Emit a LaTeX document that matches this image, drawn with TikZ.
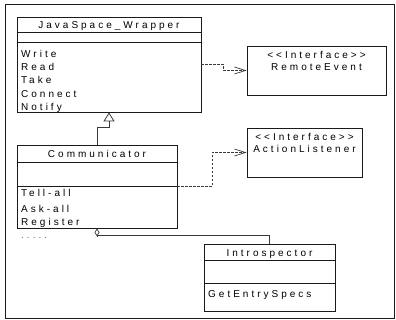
\documentclass[tikz,border=0pt]{standalone}
\usepackage{fontspec}
\newfontfamily\umlfont{Liberation Sans}[LetterSpace=30]
\usetikzlibrary{arrows.meta}
\definecolor{ln}{HTML}{1A1A1A}
\definecolor{cn}{HTML}{3A3A3A}
\definecolor{txt}{HTML}{000000}
\begin{document}
\begin{tikzpicture}[x=1pt,y=-1pt,
  every node/.style={font=\umlfont\fontsize{10}{12}\selectfont, text=txt},
  classbox/.style={draw=ln, line width=0.8pt, inner sep=0pt},
  sep/.style={draw=ln, line width=0.8pt},
  lbl/.style={inner sep=0pt, anchor=base west},
  ttl/.style={inner sep=0pt, anchor=base},
  dep/.style={draw=cn, line width=0.7pt, dash pattern=on 2.5pt off 1.5pt,
    -{Straight Barb[length=11pt,width=7pt,line width=0.7pt]}},
  inh/.style={draw=cn, line width=0.8pt, -{Triangle[open,length=9pt,width=11pt,line width=0.8pt]}},
  agg/.style={draw=cn, line width=0.8pt, -{Diamond[open,length=8pt,width=5pt,line width=0.7pt]}},
  frame/.style={draw=ln, line width=0.8pt}
]
\useasboundingbox (0,0) rectangle (396,320);
\draw[frame] (5,4) rectangle (394,318);
\draw[draw=ln, line width=1.6pt] (394.4,4) -- (394.4,318.4) -- (5,318.4);

% JavaSpace_Wrapper
\node[classbox, minimum width=184pt, minimum height=95pt] (jsw) at (109,64.5) {};
\draw[sep] (jsw.north west) ++(0,16) -- ++(184,0);
\draw[sep] (jsw.north west) ++(0,26) -- ++(184,0);
\node[ttl] (jswt) at (109,28.5) {JavaSpace\_Wrapper};
\node[lbl] (jm1) at (21,57.5) {Write};
\node[lbl] (jm2) at (21,71) {Read};
\node[lbl] (jm3) at (21,84) {Take};
\node[lbl] (jm4) at (21,97.5) {Connect};
\node[lbl] (jm5) at (21,111) {Notify};

% Communicator
\node[classbox, minimum width=160pt, minimum height=83pt] (com) at (97,186.5) {};
\draw[sep] (com.north west) ++(0,18) -- ++(160,0);
\draw[sep] (com.north west) ++(0,42) -- ++(160,0);
\node[ttl] (comt) at (97,157.5) {Communicator};
\node[lbl] (cm1) at (21,197) {Tell-all};
\node[lbl] (cm2) at (21,213) {Ask-all};
\node[lbl] (cm3) at (21,226) {Register};
\node[lbl, text=black!60] (dots) at (21,239) {.....};

% Introspector
\node[classbox, minimum width=131pt, minimum height=67pt] (int) at (269.5,277.5) {};
\draw[sep] (int.north west) ++(0,17) -- ++(131,0);
\draw[sep] (int.north west) ++(0,40) -- ++(131,0);
\node[ttl] (intt) at (269.5,256.5) {Introspector};
\node[lbl] (im1) at (208,297.5) {GetEntrySpecs};

% RemoteEvent
\node[classbox, minimum width=139pt, minimum height=49pt] (re) at (316.5,70.5) {};
\node[ttl] (res) at (316.5,58.5) {<<Interface>>};
\node[ttl] (ren) at (316.5,70.5) {RemoteEvent};

% ActionListener
\node[classbox, minimum width=115pt, minimum height=49pt] (al) at (304.5,152.5) {};
\node[ttl] (als) at (304.5,140.5) {<<Interface>>};
\node[ttl] (aln) at (304.5,152.5) {ActionListener};

% connectors
\draw[inh] (com.north) -- ++(0,-17) -| (jsw.south);
\draw[dep] (jsw.east) -- ++(22,0) |- (re.west);
\draw[dep] (com.east) -- ++(35,0) |- (al.west);
\draw[agg] (int.north) -- ++(0,-8) -| (com.south);
\end{tikzpicture}
\end{document}
